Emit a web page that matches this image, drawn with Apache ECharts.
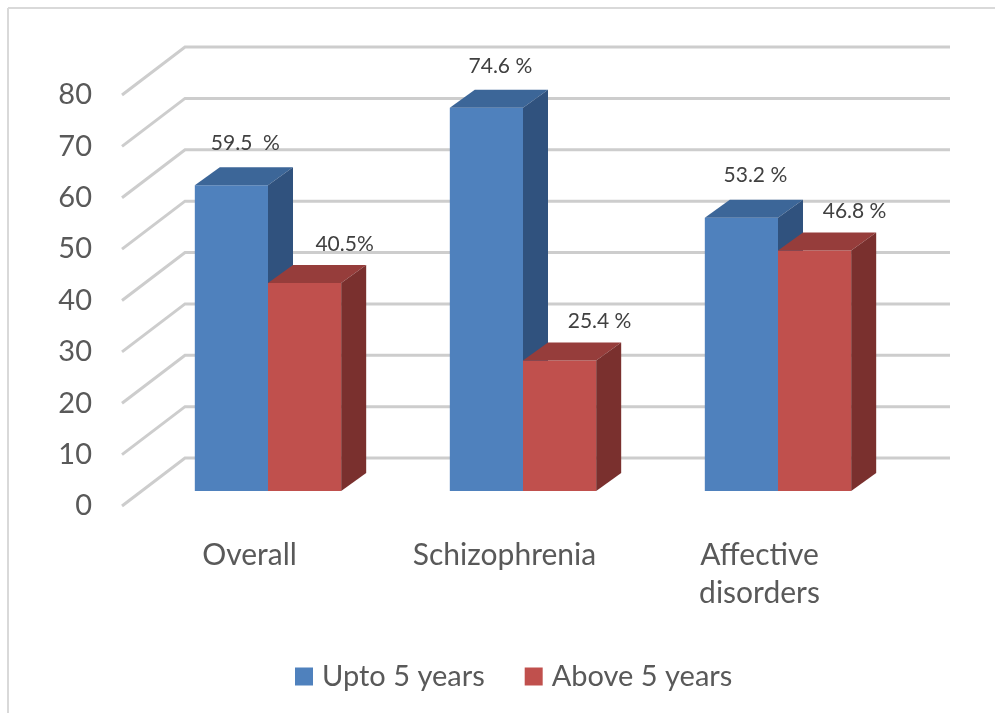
<!DOCTYPE html>
<html>
<head>
<meta charset="utf-8">
<script src="https://cdn.jsdelivr.net/npm/echarts@6/dist/echarts.min.js"></script>
<style>
  html, body { margin: 0; padding: 0; background: #fff; }
  #chart { width: 995px; height: 713px; }
</style>
</head>
<body>
<div id="chart"></div>
<script>
// data
var categories = ['Overall', 'Schizophrenia', 'Affective\ndisorders'];
var seriesNames = ['Upto 5 years', 'Above 5 years'];
var uptoValues = [59.5, 74.6, 53.2];
var aboveValues = [40.5, 25.4, 46.8];
var uptoLabels = ['59.5  %', '74.6 %', '53.2 %'];
var aboveLabels = ['40.5%', '25.4 %', '46.8 %'];
var yTicks = [0, 10, 20, 30, 40, 50, 60, 70, 80];

// 3d look: offsets between back wall, bar plane and front (label) plane
var WALL_DX = -63, WALL_DY = 48;   // back wall -> front edge of the floor
var BAR_DX = -44.5, BAR_DY = 33;   // back wall -> bar front faces
var DEPTH_X = 25, DEPTH_Y = -18;   // bar depth
var FONT = 'Lato, "Liberation Sans", sans-serif';

var chart = echarts.init(document.getElementById('chart'));

function barRenderer(side, colors, labels, lblOff) {
    return function (params, api) {
        var ci = api.value(0), v = api.value(1);
        var top = api.coord([ci, v]);
        var base = api.coord([ci, 0]);
        var w = api.size([1, 0])[0] * 0.287;
        var cx = top[0] + BAR_DX;
        var x0 = side < 0 ? cx - w : cx;
        var x1 = x0 + w;
        var yT = top[1] + BAR_DY, yB = base[1] + BAR_DY;
        return {
            type: 'group',
            children: [
                {
                    type: 'rect',
                    shape: { x: x0, y: yT, width: w, height: yB - yT },
                    style: { fill: colors[0] }
                },
                {
                    type: 'polygon',
                    shape: { points: [[x0, yT], [x0 + DEPTH_X, yT + DEPTH_Y], [x1 + DEPTH_X, yT + DEPTH_Y], [x1, yT]] },
                    style: { fill: colors[1] }
                },
                {
                    type: 'polygon',
                    shape: { points: [[x1, yT], [x1 + DEPTH_X, yT + DEPTH_Y], [x1 + DEPTH_X, yB + DEPTH_Y], [x1, yB]] },
                    style: { fill: colors[2] }
                },
                {
                    type: 'text',
                    style: {
                        text: labels[params.dataIndex],
                        x: x0 + w / 2 + lblOff[0],
                        y: yT + lblOff[1],
                        align: 'center',
                        verticalAlign: 'middle',
                        fontSize: 21,
                        fontFamily: FONT,
                        fill: '#404040'
                    }
                }
            ]
        };
    };
}

function wallRenderer(params, api) {
    var cs = params.coordSys;
    var y = api.coord([0, api.value(1)])[1];
    return {
        type: 'polyline',
        shape: { points: [[cs.x + WALL_DX, y + WALL_DY], [cs.x, y], [cs.x + cs.width, y]] },
        style: { stroke: '#cdcdcd', lineWidth: 3, fill: null }
    };
}

var option = {
    backgroundColor: '#fff',
    animation: false,
    graphic: [
        { type: 'line', shape: { x1: 8, y1: 8, x2: 995, y2: 8 }, style: { stroke: '#d9d9d9', lineWidth: 2 } },
        { type: 'line', shape: { x1: 8, y1: 8, x2: 8, y2: 713 }, style: { stroke: '#d9d9d9', lineWidth: 2 } }
    ],
    legend: {
        data: seriesNames,
        top: 657,
        left: 290,
        icon: 'rect',
        itemWidth: 18,
        itemHeight: 18,
        itemGap: 40,
        textStyle: { fontSize: 29, color: '#595959', fontFamily: FONT, padding: [0, 0, 0, 4] }
    },
    grid: [
        // back wall
        { left: 185, right: 45, top: 47, bottom: 255 },
        // front plane, for the axis labels
        { left: 122, right: 108, top: 95, bottom: 207 }
    ],
    xAxis: [
        {
            type: 'category', gridIndex: 0, data: categories,
            axisLine: { show: false }, axisTick: { show: false }, axisLabel: { show: false }
        },
        {
            type: 'category', gridIndex: 1, data: categories,
            axisLine: { show: false }, axisTick: { show: false },
            axisLabel: { margin: 30, fontSize: 30, lineHeight: 38, color: '#595959', fontFamily: FONT }
        }
    ],
    yAxis: [
        {
            type: 'value', gridIndex: 0, min: 0, max: 80, interval: 10,
            axisLine: { show: false }, axisTick: { show: false }, axisLabel: { show: false },
            splitLine: { show: false }
        },
        {
            type: 'value', gridIndex: 1, min: 0, max: 80, interval: 10,
            axisLine: { show: false }, axisTick: { show: false }, splitLine: { show: false },
            axisLabel: { margin: 30, fontSize: 29, color: '#595959', fontFamily: FONT }
        }
    ],
    series: [
        {
            type: 'custom',
            name: 'wall',
            xAxisIndex: 0, yAxisIndex: 0,
            renderItem: wallRenderer,
            data: yTicks.map(function (v) { return [0, v]; }),
            silent: true,
            z: 1
        },
        {
            type: 'custom',
            name: seriesNames[0],
            xAxisIndex: 0, yAxisIndex: 0,
            itemStyle: { color: '#4f81bd' },
            renderItem: barRenderer(-1, ['#4f81bd', '#3c6698', '#30527e'], uptoLabels, [14, -42]),
            data: uptoValues.map(function (v, i) { return [i, v]; }),
            z: 2
        },
        {
            type: 'custom',
            name: seriesNames[1],
            xAxisIndex: 0, yAxisIndex: 0,
            itemStyle: { color: '#c0504d' },
            renderItem: barRenderer(1, ['#c0504d', '#963d3b', '#7a302e'], aboveLabels, [40, -39]),
            data: aboveValues.map(function (v, i) { return [i, v]; }),
            z: 3
        }
    ]
};

chart.setOption(option);
</script>
</body>
</html>
